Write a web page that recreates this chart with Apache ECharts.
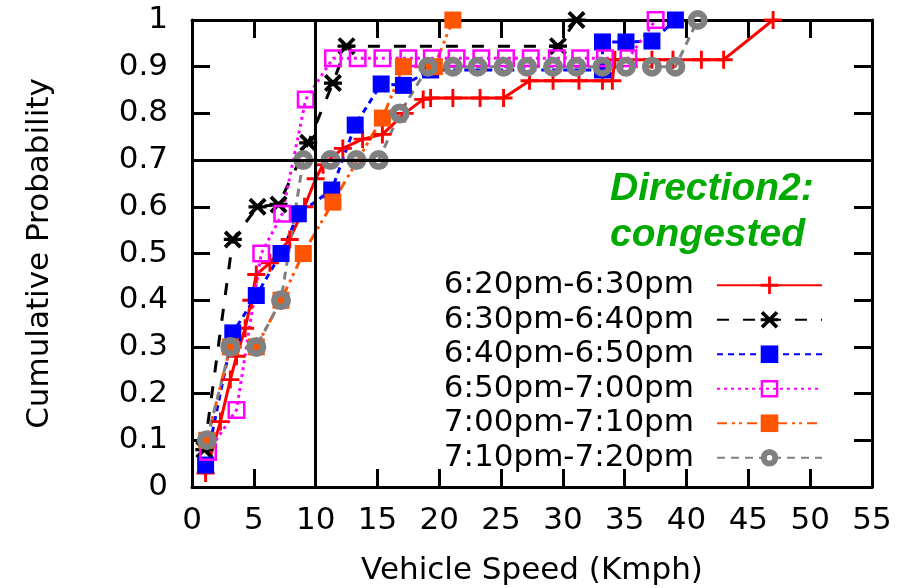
<!DOCTYPE html>
<html>
<head>
<meta charset="utf-8">
<script src="https://cdn.jsdelivr.net/npm/echarts@6/dist/echarts.min.js"></script>
<style>
  html, body { margin: 0; padding: 0; background: #ffffff; }
  #chart { width: 912px; height: 588px; }
</style>
</head>
<body>
<div id="chart"></div>
<script>
// Time windows, one curve each
const intervalNames = [
  '6:20pm-6:30pm',
  '6:30pm-6:40pm',
  '6:40pm-6:50pm',
  '6:50pm-7:00pm',
  '7:00pm-7:10pm',
  '7:10pm-7:20pm'
];

// Empirical CDF points: [speed (Kmph), cumulative probability]
const cdf1820 = [[1.1,0.03],[2.3,0.14],[3.1,0.23],[3.6,0.28],[4.3,0.34],[4.8,0.4],[5.2,0.455],[6.3,0.48],[7.9,0.53],[9.1,0.6],[10.0,0.66],[10.6,0.69],[12.2,0.725],[13.8,0.745],[15.4,0.755],[17.2,0.8],[18.7,0.83],[19.3,0.833],[21.1,0.833],[23.3,0.833],[25.2,0.833],[27.3,0.87],[29.2,0.87],[31.3,0.87],[33.2,0.87],[34.0,0.87],[34.2,0.915],[37.2,0.915],[38.9,0.915],[41.2,0.915],[43.0,0.915],[47.0,1.0]];
const cdf1830 = [[1.0,0.08],[3.3,0.53],[5.3,0.6],[7.0,0.605],[9.4,0.737],[11.4,0.865],[12.5,0.944],[29.6,0.944],[31.1,1.0]];
const cdf1840 = [[1.1,0.047],[3.3,0.33],[5.2,0.41],[7.2,0.5],[8.6,0.585],[11.3,0.636],[13.2,0.775],[15.3,0.863],[17.1,0.86],[19.3,0.893],[33.2,0.893],[33.2,0.953],[35.1,0.953],[37.2,0.955],[39.1,1.0]];
const cdf1850 = [[1.3,0.075],[3.6,0.165],[5.6,0.5],[7.3,0.585],[9.2,0.83],[11.4,0.918],[13.4,0.918],[15.4,0.918],[17.5,0.918],[19.4,0.918],[21.4,0.918],[23.4,0.918],[25.4,0.918],[27.4,0.918],[29.5,0.918],[31.4,0.918],[33.4,0.918],[35.3,0.918],[37.5,1.0]];
const cdf1900 = [[1.2,0.1],[3.1,0.3],[5.2,0.3],[7.2,0.4],[9.0,0.5],[11.4,0.61],[15.4,0.79],[17.1,0.9],[19.6,0.9],[21.1,1.0]];
const cdf1910 = [[1.2,0.1],[3.1,0.3],[5.2,0.3],[7.2,0.4],[9.0,0.7],[11.2,0.7],[13.3,0.7],[15.1,0.7],[16.8,0.8],[19.1,0.9],[21.1,0.9],[23.1,0.9],[25.2,0.9],[27.1,0.9],[29.2,0.9],[31.1,0.9],[33.2,0.9],[35.1,0.9],[37.2,0.9],[39.1,0.9],[40.9,1.0]];

// Reference cross-hair
const refSpeed = 10;
const refProbability = 0.7;

// Axis ranges: [min, max, step]
const speedRange = [0, 55, 5];
const probRange = [0, 1, 0.1];

const FONT = 'DejaVu Sans';

// Marker shapes
const plusPath = 'path://M4.2,0H5.8V4.2H10V5.8H5.8V10H4.2V5.8H0V4.2H4.2Z';
const starPath = 'path://M0,1.5L1.5,0L10,8.5L8.5,10Z M8.5,0L10,1.5L1.5,10L0,8.5Z M0,4.1H10V5.9H0Z';
const boxRingPath = 'path://M0,0H10V10H0Z M1.4,1.4V8.6H8.6V1.4Z';
const circleRingPath = 'path://M5,0A5,5 0 1,1 5,10A5,5 0 1,1 5,0Z M5,3.4A1.6,1.6 0 1,0 5,6.6A1.6,1.6 0 1,0 5,3.4Z';

const curves = [
  { data: cdf1820, color: '#ff0000', dash: 'solid', symbol: plusPath, size: 18 },
  { data: cdf1830, color: '#000000', dash: [12, 14], symbol: starPath, size: 18 },
  { data: cdf1840, color: '#0000ff', dash: [6, 5], symbol: 'rect', size: 17 },
  { data: cdf1850, color: '#ff00ff', dash: [3, 4], symbol: boxRingPath, size: 18 },
  { data: cdf1900, color: '#ff5400', dash: [10, 5, 3, 4, 3, 5], symbol: 'rect', size: 17 },
  { data: cdf1910, color: '#808080', dash: [8, 6], symbol: circleRingPath, size: 20 }
];

const series = curves.map((c, i) => ({
  name: intervalNames[i],
  type: 'line',
  data: c.data,
  symbol: c.symbol,
  symbolSize: c.size,
  showAllSymbol: true,
  clip: false,
  animation: false,
  lineStyle: { color: c.color, width: 3, type: c.dash },
  itemStyle: { color: c.color }
}));

// Cross-hair lines drawn above the curves
series.push({
  type: 'line',
  data: [],
  silent: true,
  animation: false,
  markLine: {
    silent: true,
    symbol: 'none',
    animation: false,
    label: { show: false },
    lineStyle: { color: '#000', width: 3, type: 'solid' },
    data: [{ xAxis: refSpeed }, { yAxis: refProbability }]
  }
});

const frameLine = { show: true, onZero: false, lineStyle: { color: '#000', width: 3 } };
const inwardTick = () => ({ show: true, inside: true, length: 18, lineStyle: { color: '#000', width: 3 } });
const labelStyle = { fontFamily: FONT, fontSize: 31, color: '#000' };

const option = {
  animation: false,
  backgroundColor: '#ffffff',
  grid: { left: 192, right: 40, top: 20, bottom: 101, outerBoundsMode: 'none' },
  title: {
    text: 'Direction2:\ncongested',
    left: 610,
    top: 166,
    padding: 0,
    textStyle: {
      color: '#00aa00',
      fontFamily: 'Liberation Sans',
      fontSize: 39,
      fontStyle: 'italic',
      fontWeight: 'bold',
      lineHeight: 46
    }
  },
  legend: {
    orient: 'vertical',
    right: 89,
    top: 268,
    align: 'right',
    itemWidth: 105,
    itemHeight: 22,
    itemGap: 0,
    selectedMode: false,
    padding: 0,
    data: intervalNames,
    textStyle: {
      fontFamily: FONT,
      fontSize: 31,
      color: '#000',
      lineHeight: 34.5,
      padding: [0, 18, 0, 0]
    }
  },
  xAxis: [
    {
      type: 'value', position: 'bottom',
      min: speedRange[0], max: speedRange[1], interval: speedRange[2],
      name: 'Vehicle Speed (Kmph)',
      nameLocation: 'middle',
      nameGap: 68,
      nameTextStyle: labelStyle,
      axisLine: frameLine,
      axisTick: inwardTick(),
      axisLabel: Object.assign({ margin: 18 }, labelStyle),
      splitLine: { show: false }
    },
    {
      type: 'value', position: 'top',
      min: speedRange[0], max: speedRange[1], interval: speedRange[2],
      axisLine: frameLine,
      axisTick: inwardTick(),
      axisLabel: { show: false },
      splitLine: { show: false }
    }
  ],
  yAxis: [
    {
      type: 'value', position: 'left',
      min: probRange[0], max: probRange[1], interval: probRange[2],
      name: 'Cumulative Probability',
      nameLocation: 'middle',
      nameGap: 137,
      nameRotate: 90,
      nameTextStyle: labelStyle,
      axisLine: frameLine,
      axisTick: inwardTick(),
      axisLabel: Object.assign({ margin: 24 }, labelStyle),
      splitLine: { show: false }
    },
    {
      type: 'value', position: 'right',
      min: probRange[0], max: probRange[1], interval: probRange[2],
      axisLine: frameLine,
      axisTick: inwardTick(),
      axisLabel: { show: false },
      splitLine: { show: false }
    }
  ],
  series: series
};

const chart = echarts.init(document.getElementById('chart'), null, { renderer: 'canvas' });
chart.setOption(option);
</script>
</body>
</html>
